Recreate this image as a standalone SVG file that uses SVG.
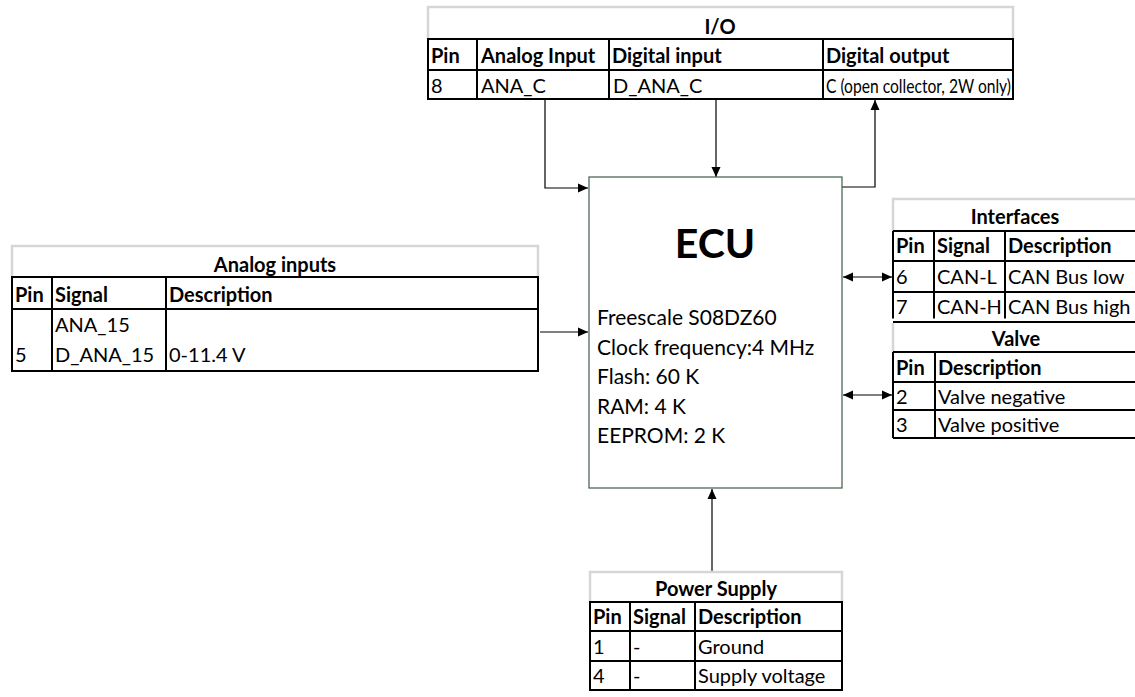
<svg xmlns="http://www.w3.org/2000/svg" width="1135" height="697" viewBox="0 0 1135 697">
<defs>
<style>
text{font-family:Lato,"Liberation Sans",sans-serif;fill:#000}
.t{font-size:20px}
.b{font-size:20px;font-weight:bold}
.c{text-anchor:middle}
.lt{stroke:#d6d6d6;stroke-width:2.5;fill:none}
.bk{stroke:#000;stroke-width:2;fill:none}
.cn{stroke:#000;stroke-width:1.2;fill:none}
.ecu{font-size:21px}
</style>
<marker id="ah" viewBox="0 0 10 10" refX="10" refY="5" markerWidth="10" markerHeight="10" markerUnits="userSpaceOnUse" orient="auto-start-reverse">
<path d="M0,0.5 L10,5 L0,9.5 z" fill="#000"/>
</marker>
</defs>
<rect width="1135" height="697" fill="#fff"/>

<g id="connectors">
<path class="cn" d="M545,99 V188 H588" marker-end="url(#ah)"/>
<path class="cn" d="M716,99 V177" marker-end="url(#ah)"/>
<path class="cn" d="M842,187 H875 V100" marker-end="url(#ah)"/>
<path class="cn" d="M540,332 H588" marker-end="url(#ah)"/>
<path class="cn" d="M843,277 H892" marker-start="url(#ah)" marker-end="url(#ah)"/>
<path class="cn" d="M843,395 H892" marker-start="url(#ah)" marker-end="url(#ah)"/>
<path class="cn" d="M712,572 V489" marker-end="url(#ah)"/>
</g>

<g id="ecu">
<rect x="589" y="177" width="253" height="311" fill="#fff" stroke="#3f5e48" stroke-width="1.2"/>
<text x="715" y="258" class="c" font-size="41" font-weight="bold">ECU</text>
<text x="597" y="325" class="ecu">Freescale S08DZ60</text>
<text x="597" y="354.5" class="ecu">Clock frequency:4 MHz</text>
<text x="597" y="384" class="ecu">Flash: 60 K</text>
<text x="597" y="413.5" class="ecu">RAM: 4 K</text>
<text x="597" y="443" class="ecu">EEPROM: 2 K</text>
</g>

<g id="io">
<path class="lt" d="M428,39 V7 H1013 V39"/>
<rect class="bk" x="428" y="39" width="585" height="60"/>
<path class="bk" d="M428,70 H1013 M477,39 V99 M609,39 V99 M823,39 V99"/>
<text x="720" y="34" class="b c">I/O</text>
<text x="431" y="63" class="b">Pin</text>
<text x="481" y="63" class="b">Analog Input</text>
<text x="612" y="63" class="b">Digital input</text>
<text x="826" y="63" class="b">Digital output</text>
<text x="431" y="93" class="t">8</text>
<text x="481" y="93" class="t">ANA_C</text>
<text x="613" y="93" class="t">D_ANA_C</text>
<text x="826" y="93" font-size="18.5" textLength="185" lengthAdjust="spacingAndGlyphs">C (open collector, 2W only)</text>
</g>

<g id="analog-inputs">
<path class="lt" d="M12,277 V246 H538 V277"/>
<rect class="bk" x="12" y="277" width="526" height="94"/>
<path class="bk" d="M12,309 H538 M52,277 V371 M166,277 V371"/>
<text x="275" y="272" class="b c">Analog inputs</text>
<text x="15" y="302" class="b">Pin</text>
<text x="55" y="302" class="b">Signal</text>
<text x="169" y="302" class="b">Description</text>
<text x="55" y="332" class="t">ANA_15</text>
<text x="15" y="362" class="t">5</text>
<text x="55" y="362" class="t">D_ANA_15</text>
<text x="169" y="362" class="t">0-11.4 V</text>
</g>

<g id="interfaces">
<path class="lt" d="M893,231 V199 H1140"/>
<path class="bk" d="M893,231 H1140 M893,261 H1140 M893,292 H1140 M893,231 V320 M934,231 V320 M1005,231 V320"/>
<text x="1015" y="224" class="b c">Interfaces</text>
<text x="896" y="253" class="b">Pin</text>
<text x="937" y="253" class="b">Signal</text>
<text x="1008" y="253" class="b">Description</text>
<text x="896" y="284" class="t">6</text>
<text x="937" y="284" class="t">CAN-L</text>
<text x="1008" y="284" class="t">CAN Bus low</text>
<text x="896" y="314" class="t">7</text>
<text x="937" y="314" class="t">CAN-H</text>
<text x="1008" y="314" class="t">CAN Bus high</text>
</g>

<g id="valve">
<rect x="892" y="318.5" width="248" height="4" fill="#fff"/>
<path class="bk" d="M893,322 H1140"/>
<path class="lt" d="M893,323 V352"/>
<path class="bk" d="M893,352 H1140 M893,382 H1140 M893,410 H1140 M893,438 H1140 M893,352 V438 M935,352 V438"/>
<text x="1016" y="346" class="b c">Valve</text>
<text x="896" y="375" class="b">Pin</text>
<text x="938" y="375" class="b">Description</text>
<text x="896" y="404" class="t">2</text>
<text x="938" y="404" class="t">Valve negative</text>
<text x="896" y="432" class="t">3</text>
<text x="938" y="432" class="t">Valve positive</text>
</g>

<g id="power-supply">
<path class="lt" d="M590,602 V572 H842 V602"/>
<rect class="bk" x="590" y="602" width="252" height="88"/>
<path class="bk" d="M590,631 H842 M590,661 H842 M630,602 V690 M695,602 V690"/>
<text x="716" y="596" class="b c">Power Supply</text>
<text x="593" y="624" class="b">Pin</text>
<text x="633" y="624" class="b">Signal</text>
<text x="698" y="624" class="b">Description</text>
<text x="593" y="654" class="t">1</text>
<text x="633" y="654" class="t">-</text>
<text x="698" y="654" class="t">Ground</text>
<text x="593" y="683" class="t">4</text>
<text x="633" y="683" class="t">-</text>
<text x="698" y="683" class="t">Supply voltage</text>
</g>
</svg>
